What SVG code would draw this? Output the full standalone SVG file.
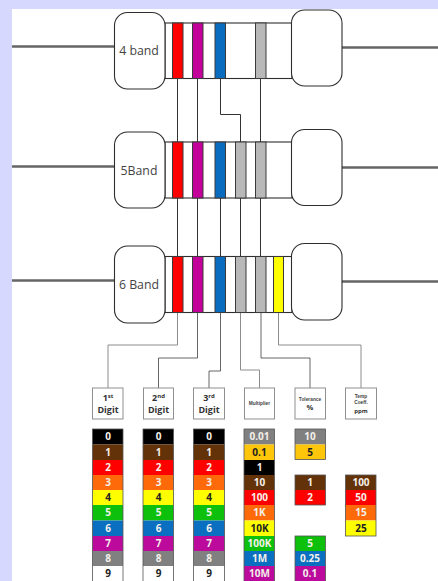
<svg xmlns="http://www.w3.org/2000/svg" width="438" height="581" viewBox="0 0 438 581">
<style>
.bg{fill:#d6d8fe}
.wire{fill:none;stroke:#666;stroke-width:2.600}
.cap{fill:#fff;stroke:#2e2e2e;stroke-width:1.1}
.body{fill:#fff;stroke:#2e2e2e;stroke-width:1.1}
.band{stroke:#3a3a3a;stroke-width:1}
.lead{fill:none;stroke:#333;stroke-width:1}
.lead2{fill:none;stroke:#8c8c8c;stroke-width:1}
.lbl{font-family:"Open Sans","Liberation Sans",sans-serif;font-size:12.300px;fill:#444;text-anchor:middle}
.box{fill:#fff;stroke:#8f8f8f;stroke-width:1}
.h{font-family:"Open Sans","Liberation Sans",sans-serif;font-weight:bold;font-size:9px;fill:#333;text-anchor:middle}
.s{font-family:"Liberation Sans",Arial,sans-serif;font-weight:bold;font-size:4.800px;fill:#444;text-anchor:middle}
.c{font-family:"Open Sans","Liberation Sans",sans-serif;font-weight:bold;font-size:10px;fill:#f4f0ea;text-anchor:middle}
.d{fill:#222}
.out{fill:none;stroke:#555;stroke-width:.8}
.k{fill:#000}.br{fill:#643209}.r{fill:#fe0000}.o{fill:#fe6a0a}.y{fill:#fefe00}.g{fill:#0cc00c}.b{fill:#0a6fc0}.v{fill:#bb0a9c}.gy{fill:#808080}.w{fill:#fff}.au{fill:#fec60a}
.red{fill:#fe0000}.mag{fill:#c4009a}.blu{fill:#0a6cbe}.sil{fill:#b8b8b8}.yel{fill:#fefe00}
</style>
<rect class="bg" width="438" height="581"/>
<rect x="12" y="9" width="426" height="572" fill="#fff"/>

<g id="connectors">
<path class="lead" d="M177.500 78V142M197.500 78V142M220.500 78V114.500H240.500V142M260.500 78V142"/>
<path class="lead" d="M177.500 198V256M197.500 198V256M220.500 198V256M240.500 198V256M260.500 198V256"/>
<path class="lead2" d="M177.500 312V345H108V388"/>
<path class="lead" d="M197.500 312V358H158.500V388" stroke-opacity=".75"/>
<path class="lead" d="M220.500 312V371H209V388" stroke-opacity=".75"/>
<path class="lead2" d="M240.500 312V370H259.500V388"/>
<path class="lead" d="M261 312V358H310V388" stroke-opacity=".75"/>
<path class="lead2" d="M278.500 312V345H361V388"/>
</g>

<g id="resistor-4band">
<path class="wire" d="M12 46.500H114M342 47.500H438"/>
<rect class="body" x="165" y="23" width="127" height="55.500"/>
<rect class="cap" x="114.500" y="12.500" width="50.500" height="76.500" rx="13"/>
<rect class="cap" x="291.500" y="10" width="50.500" height="76" rx="13"/>
<rect class="band red" x="172.500" y="23" width="10.500" height="55.500"/>
<rect class="band mag" x="192.500" y="23" width="10.500" height="55.500"/>
<rect class="band blu" x="215" y="23" width="10.500" height="55.500"/>
<rect class="band sil" x="255.500" y="23" width="10.500" height="55.500"/>
<text class="lbl" x="139" y="55">4 band</text>
</g>

<g id="resistor-5band">
<path class="wire" d="M12 166.500H114M342 167.500H438"/>
<rect class="body" x="165" y="142" width="127" height="56"/>
<rect class="cap" x="114.500" y="132" width="50.500" height="76" rx="13"/>
<rect class="cap" x="291.500" y="129.500" width="50.500" height="76" rx="13"/>
<rect class="band red" x="172.500" y="142" width="10.500" height="56"/>
<rect class="band mag" x="192.500" y="142" width="10.500" height="56"/>
<rect class="band blu" x="215" y="142" width="10.500" height="56"/>
<rect class="band sil" x="235.500" y="142" width="10.500" height="56"/>
<rect class="band sil" x="255.500" y="142" width="10.500" height="56"/>
<text class="lbl" x="139" y="174.500">5Band</text>
</g>

<g id="resistor-6band">
<path class="wire" d="M12 280.500H114M342 281.500H438"/>
<rect class="body" x="165" y="256.500" width="127" height="56"/>
<rect class="cap" x="114.500" y="246" width="50.500" height="77" rx="13"/>
<rect class="cap" x="291.500" y="243.500" width="50.500" height="76.500" rx="13"/>
<rect class="band red" x="172.500" y="256.500" width="10.500" height="56"/>
<rect class="band mag" x="192.500" y="256.500" width="10.500" height="56"/>
<rect class="band blu" x="215" y="256.500" width="10.500" height="56"/>
<rect class="band sil" x="235.500" y="256.500" width="10.500" height="56"/>
<rect class="band sil" x="255.500" y="256.500" width="10.500" height="56"/>
<rect class="band yel" x="273.500" y="256.500" width="10" height="56"/>
<text class="lbl" x="139" y="288.500">6 Band</text>
</g>

<g id="label-digit1"><rect class="box" x="92.500" y="388" width="30.500" height="31"/><text class="h" x="108" y="401">1<tspan font-size="6" dy="-3.500">st</tspan></text><text class="h" x="108" y="413">Digit</text></g>
<g id="label-digit2"><rect class="box" x="143.500" y="388" width="30" height="31"/><text class="h" x="158.500" y="401">2<tspan font-size="6" dy="-3.500">nd</tspan></text><text class="h" x="158.500" y="413">Digit</text></g>
<g id="label-digit3"><rect class="box" x="193.500" y="388" width="31" height="31"/><text class="h" x="209" y="401">3<tspan font-size="6" dy="-3.500">rd</tspan></text><text class="h" x="209" y="413">Digit</text></g>
<g id="label-multiplier"><rect class="box" x="244.500" y="388" width="30" height="31"/><text class="s" x="259.500" y="405">Multiplier</text></g>
<g id="label-tolerance"><rect class="box" x="295" y="388" width="30.500" height="31"/><text class="s" x="310" y="400.500">Tolerance</text><text class="h" x="310" y="410" style="font-size:7.500px">%</text></g>
<g id="label-temp"><rect class="box" x="345.500" y="388" width="31" height="31"/><text class="s" x="361" y="397.500">Temp</text><text class="s" x="361" y="404">Coeff.</text><text class="h" x="361" y="413" style="font-size:6px">ppm</text></g>

<g id="digit1">
<rect class="k" x="92.500" y="429" width="30.500" height="15.500"/><rect class="br" x="92.500" y="444.500" width="30.500" height="15.500"/><rect class="r" x="92.500" y="460" width="30.500" height="15"/><rect class="o" x="92.500" y="475" width="30.500" height="15"/><rect class="y" x="92.500" y="490" width="30.500" height="15"/><rect class="g" x="92.500" y="505" width="30.500" height="15.500"/><rect class="b" x="92.500" y="520.500" width="30.500" height="15.500"/><rect class="v" x="92.500" y="536" width="30.500" height="15"/><rect class="gy" x="92.500" y="551" width="30.500" height="15"/><rect class="out" x="92.500" y="429" width="30.500" height="160"/>
<text class="c" x="108" y="440">0</text><text class="c" x="108" y="455.500">1</text><text class="c" x="108" y="470.500">2</text><text class="c" x="108" y="485.500">3</text><text class="c d" x="108" y="500.500">4</text><text class="c" x="108" y="516">5</text><text class="c" x="108" y="531.500">6</text><text class="c" x="108" y="546.500">7</text><text class="c" x="108" y="561.500">8</text><text class="c d" x="108" y="576.500">9</text>
</g>
<g id="digit2">
<rect class="k" x="143" y="429" width="30.500" height="15.500"/><rect class="br" x="143" y="444.500" width="30.500" height="15.500"/><rect class="r" x="143" y="460" width="30.500" height="15"/><rect class="o" x="143" y="475" width="30.500" height="15"/><rect class="y" x="143" y="490" width="30.500" height="15"/><rect class="g" x="143" y="505" width="30.500" height="15.500"/><rect class="b" x="143" y="520.500" width="30.500" height="15.500"/><rect class="v" x="143" y="536" width="30.500" height="15"/><rect class="gy" x="143" y="551" width="30.500" height="15"/><rect class="out" x="143" y="429" width="30.500" height="160"/>
<text class="c" x="158.500" y="440">0</text><text class="c" x="158.500" y="455.500">1</text><text class="c" x="158.500" y="470.500">2</text><text class="c" x="158.500" y="485.500">3</text><text class="c d" x="158.500" y="500.500">4</text><text class="c" x="158.500" y="516">5</text><text class="c" x="158.500" y="531.500">6</text><text class="c" x="158.500" y="546.500">7</text><text class="c" x="158.500" y="561.500">8</text><text class="c d" x="158.500" y="576.500">9</text>
</g>
<g id="digit3">
<rect class="k" x="193.500" y="429" width="31" height="15.500"/><rect class="br" x="193.500" y="444.500" width="31" height="15.500"/><rect class="r" x="193.500" y="460" width="31" height="15"/><rect class="o" x="193.500" y="475" width="31" height="15"/><rect class="y" x="193.500" y="490" width="31" height="15"/><rect class="g" x="193.500" y="505" width="31" height="15.500"/><rect class="b" x="193.500" y="520.500" width="31" height="15.500"/><rect class="v" x="193.500" y="536" width="31" height="15"/><rect class="gy" x="193.500" y="551" width="31" height="15"/><rect class="out" x="193.500" y="429" width="31" height="160"/>
<text class="c" x="209" y="440">0</text><text class="c" x="209" y="455.500">1</text><text class="c" x="209" y="470.500">2</text><text class="c" x="209" y="485.500">3</text><text class="c d" x="209" y="500.500">4</text><text class="c" x="209" y="516">5</text><text class="c" x="209" y="531.500">6</text><text class="c" x="209" y="546.500">7</text><text class="c" x="209" y="561.500">8</text><text class="c d" x="209" y="576.500">9</text>
</g>
<g id="multiplier">
<rect class="gy" x="244" y="429" width="30.500" height="15.500"/><rect class="au" x="244" y="444.500" width="30.500" height="15.500"/><rect class="k" x="244" y="460" width="30.500" height="15"/><rect class="br" x="244" y="475" width="30.500" height="15"/><rect class="r" x="244" y="490" width="30.500" height="15"/><rect class="o" x="244" y="505" width="30.500" height="15.500"/><rect class="y" x="244" y="520.500" width="30.500" height="15.500"/><rect class="g" x="244" y="536" width="30.500" height="15"/><rect class="b" x="244" y="551" width="30.500" height="15"/><rect class="v" x="244" y="566" width="30.500" height="15"/><rect class="out" x="244" y="429" width="30.500" height="160"/>
<text class="c" x="259.500" y="440">0.01</text><text class="c d" x="259.500" y="455.500">0.1</text><text class="c" x="259.500" y="470.500">1</text><text class="c" x="259.500" y="485.500">10</text><text class="c" x="259.500" y="500.500">100</text><text class="c" x="259.500" y="516">1K</text><text class="c d" x="259.500" y="531.500">10K</text><text class="c" x="259.500" y="546.500">100K</text><text class="c" x="259.500" y="561.500">1M</text><text class="c" x="259.500" y="576.500">10M</text>
</g>
<g id="tolerance">
<rect class="gy" x="295" y="429" width="30.500" height="15.500"/><rect class="au" x="295" y="444.500" width="30.500" height="15"/><rect class="br" x="295" y="475" width="30.500" height="15"/><rect class="r" x="295" y="490" width="30.500" height="15"/><rect class="g" x="295" y="536" width="30.500" height="15"/><rect class="b" x="295" y="551" width="30.500" height="15"/><rect class="v" x="295" y="566" width="30.500" height="15"/>
<rect class="out" x="295" y="429" width="30.500" height="30.500"/><rect class="out" x="295" y="475" width="30.500" height="30"/><rect class="out" x="295" y="536" width="30.500" height="53"/>
<text class="c" x="310" y="440">10</text><text class="c d" x="310" y="455.500">5</text><text class="c" x="310" y="485.500">1</text><text class="c" x="310" y="500.500">2</text><text class="c" x="310" y="546.500">5</text><text class="c" x="310" y="561.500">0.25</text><text class="c" x="310" y="576.500">0.1</text>
</g>
<g id="tempco">
<rect class="br" x="345.500" y="475" width="30.500" height="15"/><rect class="r" x="345.500" y="490" width="30.500" height="15"/><rect class="o" x="345.500" y="505" width="30.500" height="15.500"/><rect class="y" x="345.500" y="520.500" width="30.500" height="15.500"/><rect class="out" x="345.500" y="475" width="30.500" height="61"/>
<text class="c" x="361" y="485.500">100</text><text class="c" x="361" y="500.500">50</text><text class="c" x="361" y="516">15</text><text class="c d" x="361" y="531.500">25</text>
</g>
</svg>
